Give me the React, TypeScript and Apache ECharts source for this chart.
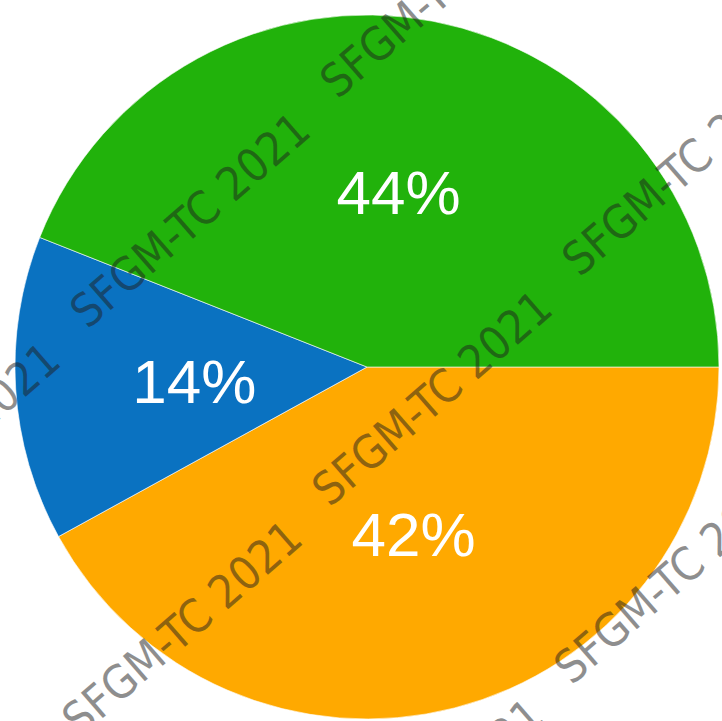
import React, { useEffect, useRef } from "react";
import * as echarts from "echarts";

const categories = ["Orange", "Blue", "Green"];
const values = [42, 14, 44];
const colors = ["#ffa900", "#0a72c1", "#21b20b"];
const watermarkText = "SFGM-TC 2021";
const watermarkCenters: [number, number][] = [
  [190, 220],
  [440, -10],
  [682, 168],
  [432, 398],
  [182, 628],
  [674, 576],
  [-60, 450],
  [424, 806],
];

export default function App() {
  const ref = useRef<HTMLDivElement>(null);
  useEffect(() => {
    if (!ref.current) return;
    const chart = echarts.init(ref.current, undefined, { renderer: "svg" });
    const labelOffsets: Record<string, [number, number]> = {
      Orange: [2, -6],
      Blue: [6, 3],
      Green: [-2, 1],
    };
    const option = {
      animation: false,
      backgroundColor: "#ffffff",
      series: [
        {
          type: "pie",
          center: [367, 367],
          radius: [0, 352],
          startAngle: 0,
          clockwise: true,
          silent: true,
          label: {
            show: true,
            position: "inside",
            formatter: "{d}%",
            color: "#ffffff",
            fontSize: 62,
            fontFamily: "'Liberation Sans', Arial, sans-serif",
            fontWeight: "normal",
          },
          labelLine: { show: false },
          itemStyle: { borderColor: "rgba(255,255,255,0.6)", borderWidth: 1 },
          data: categories.map((c, i) => ({
            name: c,
            value: values[i],
            itemStyle: { color: colors[i] },
            label: { offset: labelOffsets[c] },
          })),
        },
      ],
      graphic: watermarkCenters.map(([x, y]) => ({
        type: "text",
        x,
        y,
        rotation: (41 * Math.PI) / 180,
        z: 100,
        silent: true,
        style: {
          text: watermarkText,
          fill: "rgba(30,30,30,0.5)",
          font: "46px 'Liberation Sans Narrow', 'DejaVu Sans Condensed', 'Liberation Sans', sans-serif",
          align: "center",
          verticalAlign: "middle",
        },
      })),
    };
    chart.setOption(option as any);
    return () => chart.dispose();
  }, []);
  return (
    <div
      ref={ref}
      style={{ position: "fixed", left: 0, top: 0, width: 722, height: 721 }}
    />
  );
}
